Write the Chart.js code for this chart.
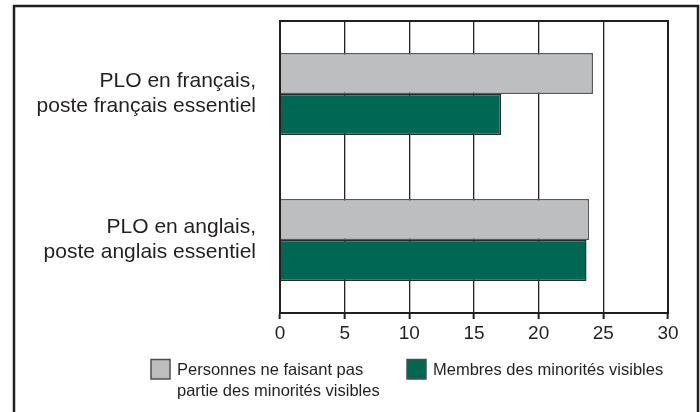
<!DOCTYPE html>
<html>
<head>
<meta charset="utf-8">
<script src="https://cdn.jsdelivr.net/npm/chart.js@4/dist/chart.umd.min.js"></script>
<style>
html,body{margin:0;padding:0;background:#fff;}
#wrap{width:700px;height:412px;position:relative;}
</style>
</head>
<body>
<div id="wrap"><canvas id="c" width="700" height="412"></canvas></div>
<script>
// ---- data ----
const categories = [
  ["PLO en français,", "poste français essentiel"],
  ["PLO en anglais,", "poste anglais essentiel"]
];
const seriesNames = [
  ["Personnes ne faisant pas", "partie des minorités visibles"],
  ["Membres des minorités visibles"]
];
const nonMinorityValues = [24.2, 23.9];
const minorityValues = [17.1, 23.7];
const xTicks = [0, 5, 10, 15, 20, 25, 30];

const INK = '#231f20';
const GRAY = '#bcbec0';
const GREEN = '#006753';

Chart.defaults.font.family = '"Liberation Sans", Arial, sans-serif';
Chart.defaults.color = INK;

const framePlugin = {
  id: 'frame',
  afterDatasetsDraw(chart) {
    const ctx = chart.ctx, a = chart.chartArea;
    ctx.save();
    ctx.strokeStyle = INK;
    ctx.lineWidth = 2;
    ctx.strokeRect(a.left, a.top, a.right - a.left, a.bottom - a.top);
    ctx.restore();
  },
  afterDraw(chart) {
    const ctx = chart.ctx;
    ctx.save();
    ctx.strokeStyle = INK;
    ctx.lineWidth = 2.5;
    ctx.beginPath();
    ctx.moveTo(14, 412);
    ctx.lineTo(14, 6);
    ctx.lineTo(698, 6);
    ctx.lineTo(698, 412);
    ctx.stroke();
    // legend
    const items = [
      {x: 151, box: chart.data.datasets[0], text: seriesNames[0]},
      {x: 407, box: chart.data.datasets[1], text: seriesNames[1]}
    ];
    ctx.font = '16.5px "Liberation Sans", Arial, sans-serif';
    ctx.textBaseline = 'middle';
    ctx.textAlign = 'left';
    items.forEach(it => {
      ctx.fillStyle = it.box.backgroundColor;
      ctx.fillRect(it.x, 359.5, 19, 19.5);
      ctx.strokeStyle = '#4d4d4f';
      ctx.lineWidth = 1.5;
      ctx.strokeRect(it.x, 359.5, 19, 19.5);
      ctx.fillStyle = INK;
      it.text.forEach((line, i) => {
        ctx.fillText(line, it.x + 26, 370 + i * 21);
      });
    });
    ctx.restore();
  }
};

new Chart(document.getElementById('c'), {
  type: 'bar',
  data: {
    labels: categories,
    datasets: [
      {
        label: seriesNames[0].join(' '),
        data: nonMinorityValues,
        backgroundColor: GRAY,
        borderColor: '#58595b',
        borderWidth: 1.5,
        borderSkipped: 'left',
        categoryPercentage: 0.56,
        barPercentage: 1.0
      },
      {
        label: seriesNames[1].join(' '),
        data: minorityValues,
        backgroundColor: GREEN,
        borderColor: '#2b2b2b',
        borderWidth: 1.5,
        borderSkipped: 'left',
        categoryPercentage: 0.56,
        barPercentage: 1.0
      }
    ]
  },
  options: {
    indexAxis: 'y',
    responsive: false,
    animation: false,
    devicePixelRatio: 1,
    layout: { padding: { left: 14, right: 32, top: 21, bottom: 64 } },
    plugins: { legend: { display: false }, tooltip: { enabled: false } },
    scales: {
      x: {
        type: 'linear',
        min: xTicks[0],
        max: xTicks[xTicks.length - 1],
        afterBuildTicks(scale) { scale.ticks = xTicks.map(v => ({ value: v })); },
        afterFit(scale) { scale.height = 35; scale.paddingLeft = 0; scale.paddingRight = 0; },
        ticks: {
          padding: 3,
          color: INK,
          font: { family: '"Liberation Sans Narrow", "Liberation Sans", sans-serif', size: 19 }
        },
        grid: {
          color: INK,
          lineWidth: 1.3,
          drawTicks: true,
          tickLength: 6,
          tickColor: INK,
          tickWidth: 2
        },
        border: { display: true, color: INK, width: 2 }
      },
      y: {
        afterFit(scale) { scale.width = 266; scale.paddingTop = 0; scale.paddingBottom = 0; },
        ticks: {
          padding: 24,
          color: INK,
          font: { size: 21, lineHeight: 1.2 }
        },
        grid: { display: false, drawTicks: false },
        border: { display: true, color: INK, width: 2 }
      }
    }
  },
  plugins: [framePlugin]
});
</script>
</body>
</html>
